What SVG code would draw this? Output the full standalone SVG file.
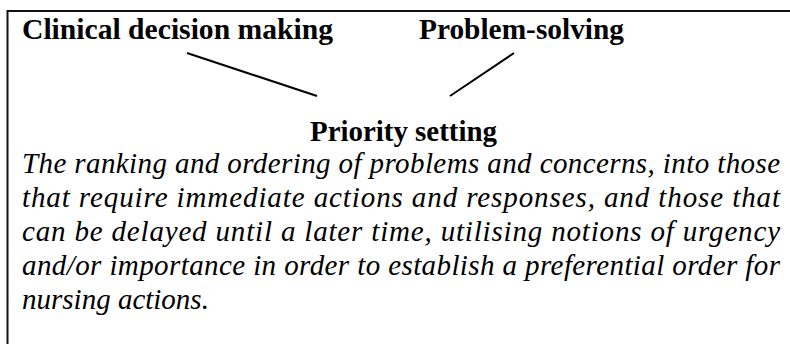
<svg xmlns="http://www.w3.org/2000/svg" width="790" height="344" viewBox="0 0 790 344">
<style>
.h{font-family:"Liberation Serif","Times New Roman",serif;font-weight:bold;font-size:29px;fill:#000}
.b{font-family:"Liberation Serif","Times New Roman",serif;font-style:italic;font-size:29px;fill:#000}
.c{stroke:#000;stroke-width:2;fill:none}
.frame{stroke:#111;stroke-width:2;fill:none}
</style>
<rect width="790" height="344" fill="#fff"/>
<path class="frame" d="M790,11 H7.5 V344"/>
<g id="node-cdm"><text class="h" x="22" y="39" textLength="311" lengthAdjust="spacingAndGlyphs">Clinical decision making</text></g>
<g id="node-ps"><text class="h" x="419" y="39" textLength="205" lengthAdjust="spacingAndGlyphs">Problem-solving</text></g>
<g id="connectors">
<line class="c" x1="187" y1="53" x2="317" y2="96"/>
<line class="c" x1="514" y1="53" x2="450" y2="96"/>
</g>
<g id="node-priority">
<text class="h" x="310" y="141" textLength="187" lengthAdjust="spacingAndGlyphs">Priority setting</text>
<text class="b" x="22" y="173" textLength="758" lengthAdjust="spacing">The ranking and ordering of problems and concerns, into those</text>
<text class="b" x="22" y="207" textLength="758" lengthAdjust="spacing">that require immediate actions and responses, and those that</text>
<text class="b" x="22" y="241" textLength="758" lengthAdjust="spacing">can be delayed until a later time, utilising notions of urgency</text>
<text class="b" x="22" y="275" textLength="758" lengthAdjust="spacing">and/or importance in order to establish a preferential order for</text>
<text class="b" x="22" y="309">nursing actions.</text>
</g>
</svg>
